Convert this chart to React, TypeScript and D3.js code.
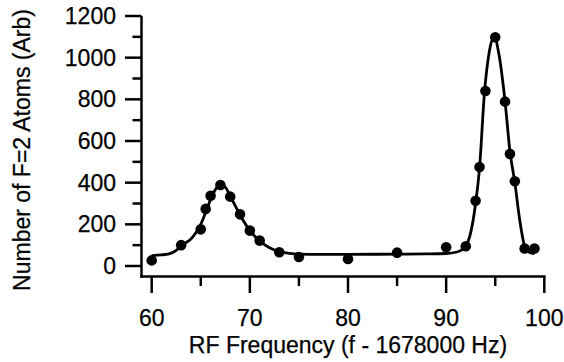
import React from "react";
import * as d3 from "d3";

// Measured data points
const freq = [60, 63, 65, 65.5, 66, 67, 68, 69, 70, 71, 73, 75, 80, 85, 90, 92, 93, 93.4, 94, 95, 96, 96.5, 97, 98, 99];
const atoms = [27, 100, 176, 274, 337, 389, 333, 248, 170, 122, 66, 43, 34, 64, 90, 95, 313, 475, 840, 1098, 789, 538, 407, 84, 84];

// Fit curve
const fitFreq = [60, 61, 62, 62.5, 63, 63.5, 64, 64.5, 65, 65.5, 66, 66.5, 67, 67.5, 68, 68.5, 69, 69.5, 70, 70.5, 71, 72, 73, 74, 75, 77, 80, 85, 88, 90, 91, 91.5, 92, 92.5, 93, 93.4, 93.9, 94.4, 94.9, 95.4, 96, 96.5, 97, 97.5, 98, 98.5, 99];
const fitAtoms = [50, 53, 62, 75, 95, 112, 130, 160, 200, 258, 320, 368, 388, 378, 335, 290, 245, 205, 170, 143, 120, 88, 70, 61, 57, 56, 56, 57, 58, 60, 66, 75, 95, 160, 300, 470, 830, 1030, 1100, 1010, 790, 550, 400, 220, 95, 65, 60];

const xMajor = [60, 70, 80, 90, 100];
const xMinor = [65, 75, 85, 95];
const yMajor = [0, 200, 400, 600, 800, 1000, 1200];
const yMinor = [100, 300, 500, 700, 900, 1100];

const xTitle = "RF Frequency (f - 1678000 Hz)";
const yTitle = "Number of F=2 Atoms (Arb)";

export default function App() {
  const W = 564;
  const H = 362;
  const x = d3.scaleLinear().domain([60, 100]).range([151.7, 544.3]);
  const y = d3.scaleLinear().domain([0, 1200]).range([266, 16]);
  const axisX = 141.5;
  const axisY = 276.5;
  const font = "'Liberation Sans', Arial, Helvetica, sans-serif";
  const fs = 23;

  const line = d3
    .line<number>()
    .x((_, i) => x(fitFreq[i]))
    .y((d) => y(d))
    .curve(d3.curveMonotoneX);

  return (
    <svg
      width={W}
      height={H}
      style={{ position: "absolute", left: 0, top: 0, background: "#fff" }}
      fontFamily={font}
    >
      <rect x={0} y={0} width={W} height={H} fill="#fff" />
      {/* axes lines */}
      <line x1={axisX} y1={y(1200)} x2={axisX} y2={axisY + 1.25} stroke="#000" strokeWidth={2.5} />
      <line x1={axisX - 1.25} y1={axisY} x2={x(100) + 1.25} y2={axisY} stroke="#000" strokeWidth={2.5} />
      {/* y ticks */}
      {yMajor.map((v) => (
        <line key={"ym" + v} x1={axisX - 16.5} x2={axisX} y1={y(v)} y2={y(v)} stroke="#000" strokeWidth={2.5} />
      ))}
      {yMinor.map((v) => (
        <line key={"yn" + v} x1={axisX - 9} x2={axisX} y1={y(v)} y2={y(v)} stroke="#000" strokeWidth={2.5} />
      ))}
      {yMajor.map((v) => (
        <text key={"yl" + v} x={116} y={y(v) + 8} textAnchor="end" fontSize={fs} fill="#000" stroke="#000" strokeWidth={0.25}>
          {v}
        </text>
      ))}
      {/* x ticks */}
      {xMajor.map((v) => (
        <line key={"xm" + v} x1={x(v)} x2={x(v)} y1={axisY} y2={axisY + 16.5} stroke="#000" strokeWidth={2.5} />
      ))}
      {xMinor.map((v) => (
        <line key={"xn" + v} x1={x(v)} x2={x(v)} y1={axisY} y2={axisY + 9.5} stroke="#000" strokeWidth={2.5} />
      ))}
      {xMajor.map((v) => (
        <text key={"xl" + v} x={x(v)} y={325.5} textAnchor="middle" fontSize={fs} fill="#000" stroke="#000" strokeWidth={0.25}>
          {v}
        </text>
      ))}
      <text x={348} y={352.5} textAnchor="middle" fontSize={fs} fill="#000" stroke="#000" strokeWidth={0.25}>
        {xTitle}
      </text>
      <text transform="translate(30,150) rotate(-90)" textAnchor="middle" fontSize={fs} fill="#000" stroke="#000" strokeWidth={0.25}>
        {yTitle}
      </text>
      {/* fit curve */}
      <path d={line(fitAtoms) || ""} fill="none" stroke="#000" strokeWidth={2.8} strokeLinejoin="round" />
      {/* points */}
      {freq.map((f, i) => (
        <circle key={"p" + i} cx={x(f)} cy={y(atoms[i])} r={5.3} fill="#000" />
      ))}
    </svg>
  );
}
